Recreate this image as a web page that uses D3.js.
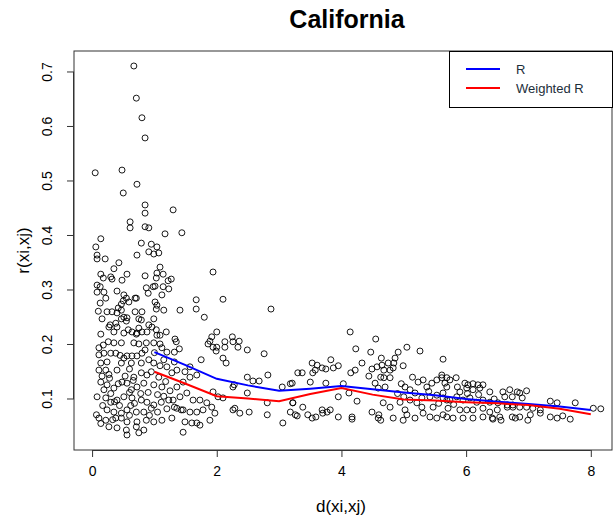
<!DOCTYPE html>
<html>
<head>
<meta charset="utf-8">
<script src="https://cdn.jsdelivr.net/npm/d3@7"></script>
<style>
  body { margin: 0; background: #fff; }
  text { font-family: "Liberation Sans", Arial, sans-serif; }
</style>
</head>
<body>
<div id="chart"></div>
<script>
// observed pairs: [d(xi,xj), r(xi,xj)]
const pairs = [
  [0.67,0.711],[0.71,0.652],[0.80,0.616],[0.85,0.579],[0.05,0.515],[0.48,0.520],[0.72,0.494],[0.50,0.478],
  [0.85,0.456],[0.85,0.441],[1.30,0.447],[0.61,0.425],[0.61,0.414],[0.85,0.416],[0.91,0.414],[1.17,0.403],
  [1.44,0.405],[0.14,0.394],[0.06,0.379],[0.08,0.364],[0.08,0.357],[0.21,0.357],[0.79,0.386],[0.95,0.384],
  [1.04,0.379],[0.91,0.370],[0.99,0.366],[1.07,0.368],[0.72,0.364],[0.43,0.350],[0.35,0.339],[0.14,0.329],
  [0.30,0.324],[0.32,0.320],[0.18,0.322],[0.56,0.329],[0.48,0.318],[0.85,0.326],[1.09,0.342],[1.04,0.331],
  [1.14,0.329],[1.03,0.322],[1.27,0.320],[1.22,0.317],[0.08,0.309],[0.13,0.306],[0.08,0.296],[0.19,0.296],
  [0.22,0.285],[0.40,0.298],[0.51,0.291],[0.55,0.285],[0.50,0.280],[0.69,0.285],[0.87,0.304],[0.90,0.294],
  [0.98,0.306],[1.01,0.307],[1.14,0.306],[1.23,0.302],[1.12,0.291],[0.13,0.276],[0.47,0.274],[0.42,0.267],
  [0.47,0.263],[0.59,0.278],[0.71,0.285],[1.01,0.278],[1.04,0.272],[1.03,0.265],[1.15,0.263],[1.41,0.263],
  [0.10,0.261],[0.24,0.260],[0.32,0.260],[0.40,0.258],[0.51,0.250],[0.56,0.249],[0.47,0.247],[0.55,0.243],
  [0.69,0.260],[0.80,0.260],[0.75,0.247],[0.79,0.245],[0.16,0.247],[0.29,0.236],[0.27,0.232],[0.38,0.239],
  [0.40,0.232],[0.58,0.227],[0.64,0.223],[0.75,0.230],[0.80,0.223],[0.72,0.221],[0.91,0.236],[0.96,0.232],
  [1.03,0.227],[0.99,0.247],[1.09,0.217],[1.19,0.223],[1.33,0.210],
  [0.14,0.219],[0.35,0.223],[0.51,0.221],[0.71,0.219],[0.88,0.223],[1.04,0.217],[0.26,0.205],[0.35,0.203],
  [0.47,0.203],[0.67,0.203],[0.75,0.201],[0.87,0.203],[0.99,0.203],[1.09,0.201],[1.35,0.205],[0.18,0.199],
  [0.11,0.194],[0.11,0.181],[0.19,0.184],[0.30,0.184],[0.38,0.184],[0.56,0.179],[0.64,0.179],[0.72,0.179],
  [0.51,0.175],[0.80,0.184],[0.91,0.172],[1.12,0.194],[1.20,0.186],[1.32,0.186],[0.14,0.166],[0.24,0.168],
  [0.47,0.166],[0.63,0.166],[0.79,0.166],[0.99,0.166],[1.09,0.161],[1.20,0.159],[1.32,0.168],[1.36,0.153],
  [0.11,0.153],[0.22,0.153],[0.40,0.153],[0.48,0.131],[0.56,0.129],[0.67,0.140],[0.79,0.148],[0.88,0.144],
  [1.07,0.140],[1.28,0.148],[1.12,0.122],[0.99,0.126],[0.83,0.129],[0.72,0.122],[0.63,0.117],[0.35,0.120],
  [0.24,0.126],[0.14,0.131],[0.19,0.117],[0.08,0.104],[0.22,0.102],[0.30,0.094],[0.40,0.098],[0.51,0.104],
  [0.64,0.102],[0.79,0.098],[0.88,0.094],[0.99,0.089],[1.11,0.094],[1.23,0.098],[1.32,0.085],[1.43,0.080],
  [0.24,0.080],[0.35,0.076],[0.47,0.074],[0.56,0.080],[0.71,0.076],[0.83,0.076],[0.95,0.083],[0.11,0.065],
  [0.22,0.061],[0.38,0.065],[0.47,0.065],[0.56,0.058],[0.72,0.058],[0.87,0.061],[0.99,0.058],[1.12,0.061],
  [1.28,0.065],[0.27,0.049],[0.40,0.047],[0.55,0.043],[0.71,0.049],[0.83,0.043],[0.56,0.034],[0.75,0.038],
  [0.16,0.142],[0.28,0.138],[0.60,0.112],[0.44,0.088],[0.68,0.092],[0.17,0.088],[0.07,0.071],[0.14,0.055],
  [0.30,0.110],[0.42,0.128],[0.53,0.142],[0.60,0.155],[0.90,0.112],[1.05,0.108],[1.18,0.132],[1.25,0.115],
  [0.33,0.062],[0.60,0.070],[0.92,0.070],[1.05,0.076],[1.20,0.082],[0.45,0.180],[0.85,0.190],[1.00,0.185],
  [0.27,0.145],[0.66,0.134],[0.95,0.150],[1.15,0.172],[0.36,0.095],[0.62,0.088],[0.78,0.110],[1.15,0.105],
  [1.94,0.333],[1.67,0.282],[2.10,0.283],[1.67,0.265],[1.80,0.250],[2.87,0.265],[1.40,0.192],[2.00,0.223],
  [1.92,0.214],[1.89,0.206],[1.86,0.201],[1.94,0.195],[2.00,0.195],[1.99,0.188],[2.25,0.214],[2.26,0.205],
  [2.36,0.206],[2.34,0.195],[2.13,0.205],[2.13,0.195],[2.49,0.190],[2.10,0.175],[2.15,0.166],[1.75,0.172],
  [2.76,0.183],[1.57,0.159],[1.49,0.150],[2.49,0.140],[2.58,0.133],[2.68,0.133],[2.82,0.144],[2.28,0.126],
  [2.26,0.122],[2.49,0.111],[3.05,0.122],[3.18,0.128],[3.30,0.148],[1.94,0.113],[2.02,0.104],[2.10,0.102],
  [1.68,0.144],[1.57,0.140],[1.46,0.131],[1.36,0.122],[1.30,0.098],[1.41,0.104],[1.52,0.111],[1.62,0.098],
  [1.73,0.098],[1.84,0.093],[1.92,0.085],[1.78,0.080],[1.68,0.076],[1.57,0.076],[1.46,0.080],[1.36,0.083],
  [1.49,0.058],[1.60,0.056],[1.68,0.056],[1.73,0.052],[1.46,0.039],[1.89,0.061],[1.97,0.074],[2.26,0.080],
  [2.29,0.083],[2.37,0.074],[2.52,0.076],[2.81,0.071],[3.06,0.056],[3.18,0.076],[3.22,0.093],[3.26,0.071],
  [2.81,0.093],
  [4.14,0.223],[4.55,0.210],[4.23,0.192],[4.47,0.186],[5.05,0.195],[4.91,0.186],[5.26,0.188],[5.63,0.173],
  [4.64,0.175],[4.75,0.166],[4.86,0.175],[4.84,0.166],[4.33,0.166],[3.53,0.166],[3.61,0.162],[3.69,0.157],
  [3.75,0.155],[3.83,0.172],[3.87,0.157],[3.95,0.161],[3.37,0.148],[3.50,0.131],[3.54,0.148],[3.58,0.153],
  [4.15,0.148],[4.22,0.153],[4.49,0.155],[4.57,0.159],[4.65,0.162],[4.68,0.153],[4.78,0.153],[4.83,0.157],
  [4.99,0.161],[4.44,0.142],[4.54,0.129],[4.63,0.140],[4.68,0.139],[4.78,0.139],[4.59,0.120],[4.70,0.122],
  [3.21,0.129],[3.75,0.129],[4.03,0.128],[3.95,0.104],[4.25,0.096],[4.12,0.111],[3.22,0.093],[3.38,0.085],
  [3.29,0.069],[3.46,0.071],[3.53,0.065],[3.59,0.067],[3.69,0.080],[3.70,0.074],[3.77,0.076],[3.82,0.080],
  [3.95,0.067],[4.17,0.067],[4.17,0.063],[4.49,0.076],[4.60,0.071],[4.63,0.061],[4.59,0.065],[4.78,0.085],
  [4.67,0.093],[4.83,0.065],[4.99,0.061],[5.02,0.080],[4.94,0.094],
  [5.02,0.122],[5.10,0.117],[5.18,0.111],[5.23,0.131],[5.31,0.135],[5.37,0.122],[5.45,0.129],[5.53,0.135],
  [5.61,0.139],[5.69,0.122],[5.10,0.098],[5.21,0.093],[5.29,0.102],[5.42,0.104],[5.53,0.107],[5.63,0.111],
  [5.69,0.098],[5.05,0.071],[5.18,0.065],[5.31,0.074],[5.42,0.067],[5.53,0.065],[5.63,0.071],[5.71,0.083],
  [5.29,0.085],[5.47,0.085],[4.90,0.110],[4.96,0.128],[5.14,0.140],[5.40,0.114],[5.56,0.092],[5.00,0.104],
  [5.61,0.144],[5.69,0.139],[5.74,0.135],[5.84,0.139],[5.66,0.129],[5.98,0.129],[6.03,0.126],[6.11,0.128],
  [6.19,0.126],[6.27,0.126],[6.38,0.113],[6.22,0.120],[6.11,0.117],[6.01,0.120],[5.90,0.113],[6.59,0.113],
  [6.70,0.117],[6.82,0.113],[6.86,0.111],[6.97,0.115],[6.62,0.104],[6.74,0.104],[6.90,0.102],[5.63,0.102],
  [5.74,0.098],[5.85,0.104],[5.95,0.098],[6.06,0.102],[6.17,0.094],[6.27,0.098],[6.38,0.094],[6.51,0.093],
  [6.66,0.089],[6.75,0.089],[6.86,0.085],[6.97,0.085],[7.07,0.083],[7.19,0.080],[7.35,0.096],[7.46,0.093],
  [7.75,0.093],[8.04,0.083],[8.16,0.082],[7.35,0.067],[7.46,0.065],[7.55,0.069],[7.67,0.063],[7.19,0.074],
  [7.03,0.071],[6.86,0.067],[6.74,0.067],[6.54,0.067],[6.42,0.065],[6.27,0.067],[6.11,0.065],[5.95,0.065],
  [5.79,0.065],[5.69,0.067],[6.99,0.061],[6.56,0.061],[6.43,0.063],[6.79,0.065],[5.90,0.080],[6.01,0.080],
  [6.11,0.080],[6.27,0.083],[6.38,0.076],[6.50,0.080],[6.66,0.085],[6.75,0.085],[5.80,0.090],[6.20,0.108],
  [6.45,0.100],[5.86,0.122],[6.02,0.110]
];

// smoothed curves
const lineD = [1.0, 1.5, 2.0, 2.5, 3.0, 3.5, 4.0, 4.5, 5.0, 5.5, 6.0, 6.5, 7.0, 7.5, 8.0];
const rPlain = [0.186, 0.162, 0.137, 0.125, 0.115, 0.119, 0.124, 0.118, 0.112, 0.107, 0.100, 0.095, 0.091, 0.086, 0.080];
const rWeighted = [0.150, 0.128, 0.105, 0.101, 0.096, 0.109, 0.120, 0.108, 0.099, 0.097, 0.094, 0.092, 0.089, 0.082, 0.072];

const xTicks = [0, 2, 4, 6, 8];
const yTicks = [0.1, 0.2, 0.3, 0.4, 0.5, 0.6, 0.7];
const legendNames = ["R", "Weighted R"];
const legendColors = ["#0000ff", "#ff0000"];

const width = 613, height = 522;
const box = { left: 74, right: 612, top: 51, bottom: 450 };

let svg = d3.select("#chart")
    .append("svg")
    .attr("width", width)
    .attr("height", height);

let x = d3.scaleLinear()
    .domain([-0.29, 8.34])
    .range([box.left, box.right]);

let y = d3.scaleLinear()
    .domain([0.0064, 0.7385])
    .range([box.bottom, box.top]);

// points
svg.append("g")
    .selectAll("circle")
    .data(pairs)
    .enter()
    .append("circle")
    .attr("cx", d => x(d[0]))
    .attr("cy", d => y(d[1]))
    .attr("r", 3)
    .attr("fill", "none")
    .attr("stroke", "#000")
    .attr("stroke-width", 0.9);

// curves
let line = d3.line()
    .x(d => x(d[0]))
    .y(d => y(d[1]));

svg.append("path")
    .datum(lineD.map((d, i) => [d, rPlain[i]]))
    .attr("d", line)
    .attr("fill", "none")
    .attr("stroke", legendColors[0])
    .attr("stroke-width", 2);

svg.append("path")
    .datum(lineD.map((d, i) => [d, rWeighted[i]]))
    .attr("d", line)
    .attr("fill", "none")
    .attr("stroke", legendColors[1])
    .attr("stroke-width", 2);

// box
svg.append("rect")
    .attr("x", box.left)
    .attr("y", box.top)
    .attr("width", box.right - box.left)
    .attr("height", box.bottom - box.top)
    .attr("fill", "none")
    .attr("stroke", "#333")
    .attr("stroke-width", 1);

// x axis
let xAxis = svg.append("g")
    .attr("transform", `translate(0, ${box.bottom})`)
    .call(d3.axisBottom(x).tickValues(xTicks).tickSize(7).tickPadding(9).tickFormat(d3.format("d")));
xAxis.select(".domain")
    .attr("d", `M${x(0)},0.5H${x(8)}`)
    .attr("stroke", "#333");
xAxis.selectAll("line").attr("stroke", "#333");
xAxis.selectAll("text")
    .attr("fill", "#000")
    .style("font-size", "14px")
    .style("font-family", "Liberation Sans, Arial, sans-serif");

// y axis
let yAxis = svg.append("g")
    .attr("transform", `translate(${box.left}, 0)`)
    .call(d3.axisLeft(y).tickValues(yTicks).tickSize(7).tickFormat(d3.format(".1f")));
yAxis.select(".domain")
    .attr("d", `M-0.5,${y(0.1)}V${y(0.7)}`)
    .attr("stroke", "#333");
yAxis.selectAll("line").attr("stroke", "#333");
yAxis.selectAll("text")
    .attr("fill", "#000")
    .attr("x", 0)
    .attr("dy", 0)
    .attr("transform", d => `translate(-22, ${y(d)}) rotate(-90)`)
    .attr("y", 0)
    .style("text-anchor", "middle")
    .style("font-size", "14px")
    .style("font-family", "Liberation Sans, Arial, sans-serif");
yAxis.selectAll(".tick").attr("transform", null);
yAxis.selectAll(".tick line")
    .attr("y1", d => y(d))
    .attr("y2", d => y(d));

// title and labels
svg.append("text")
    .attr("x", 347)
    .attr("y", 28)
    .style("text-anchor", "middle")
    .style("font-size", "25px")
    .style("font-weight", "bold")
    .text("California");

svg.append("text")
    .attr("x", 341)
    .attr("y", 512)
    .style("text-anchor", "middle")
    .style("font-size", "17px")
    .text("d(xi,xj)");

svg.append("text")
    .attr("transform", `translate(29, ${(box.top + box.bottom) / 2}) rotate(-90)`)
    .style("text-anchor", "middle")
    .style("font-size", "17px")
    .text("r(xi,xj)");

// legend
let legend = svg.append("g");
legend.append("rect")
    .attr("x", 449.5)
    .attr("y", 51.5)
    .attr("width", 163)
    .attr("height", 56)
    .attr("fill", "#fff")
    .attr("stroke", "#000");

legendNames.forEach(function(name, i) {
    legend.append("line")
        .attr("x1", 466).attr("x2", 500)
        .attr("y1", 69 + i * 19).attr("y2", 69 + i * 19)
        .attr("stroke", legendColors[i])
        .attr("stroke-width", 2);
    legend.append("text")
        .attr("x", 516)
        .attr("y", 74 + i * 19)
        .style("font-size", "13px")
        .attr("fill", "#1c2e3a")
        .text(name);
});
</script>
</body>
</html>
